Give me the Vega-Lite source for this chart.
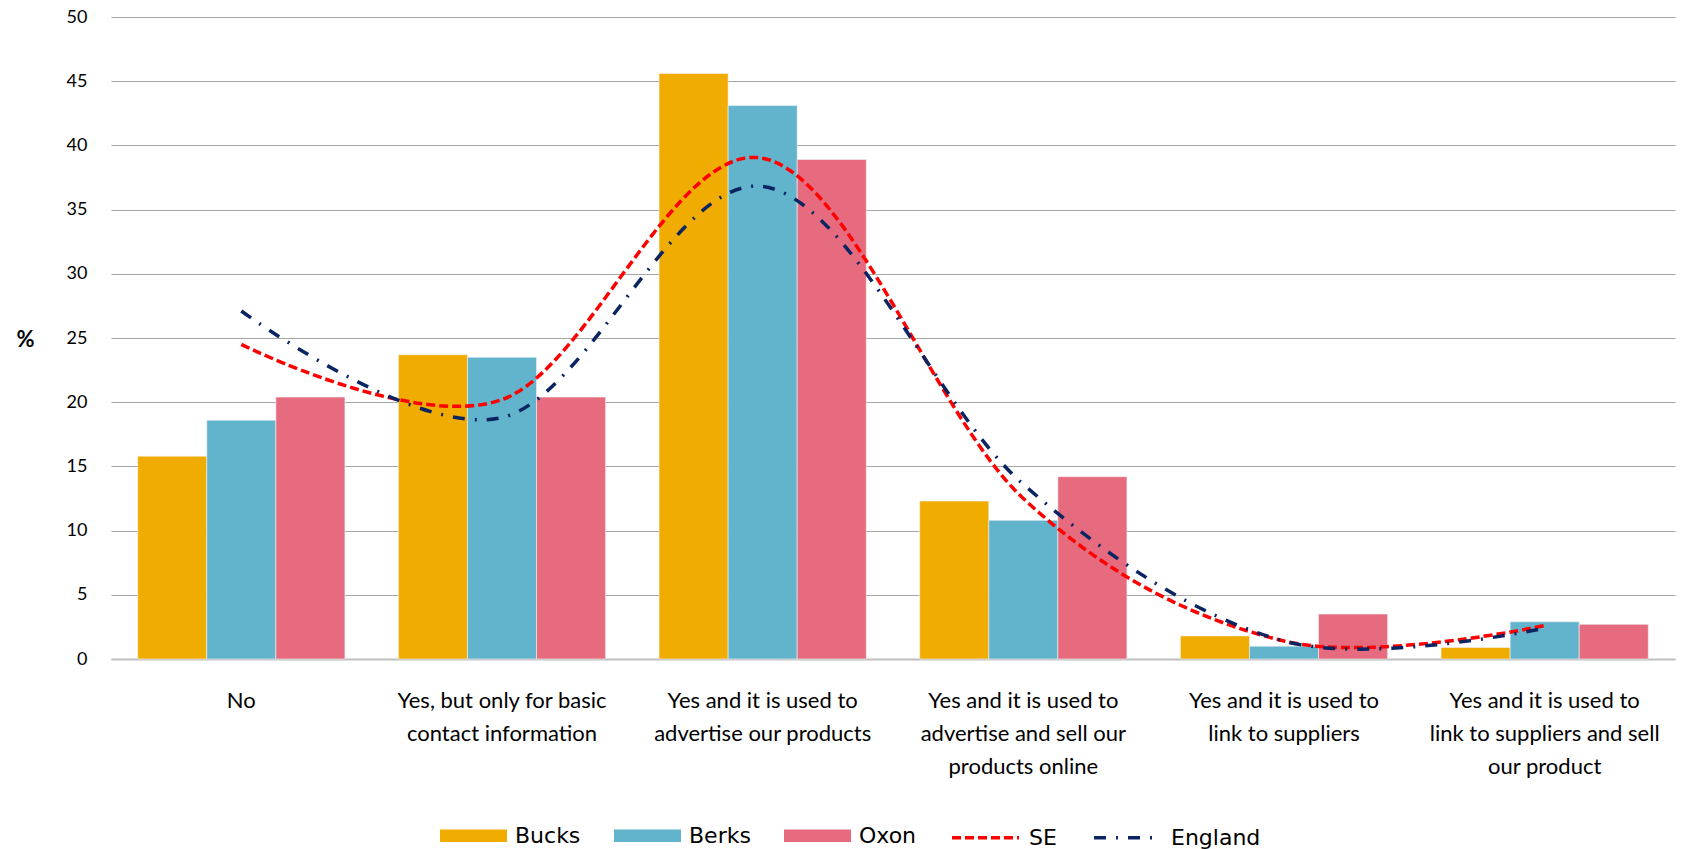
{
  "$schema": "https://vega.github.io/schema/vega-lite/v6.json",
  "width": 1564,
  "height": 642,
  "autosize": {"type": "none"},
  "padding": {"left": 111, "top": 17, "right": 17, "bottom": 190},
  "background": "white",
  "config": {
    "font": "Lato",
    "view": {"stroke": null},
    "axis": {"labelFont": "Lato", "titleFont": "Lato"},
    "legend": {"labelFont": "DejaVu Sans"}
  },
  "datasets": {
    "bars": [
      {"category": "No", "series": "Bucks", "value": 15.8},
      {"category": "No", "series": "Berks", "value": 18.6},
      {"category": "No", "series": "Oxon", "value": 20.4},
      {"category": "Yes, but only for basic|contact information", "series": "Bucks", "value": 23.7},
      {"category": "Yes, but only for basic|contact information", "series": "Berks", "value": 23.5},
      {"category": "Yes, but only for basic|contact information", "series": "Oxon", "value": 20.4},
      {"category": "Yes and it is used to|advertise our products", "series": "Bucks", "value": 45.6},
      {"category": "Yes and it is used to|advertise our products", "series": "Berks", "value": 43.1},
      {"category": "Yes and it is used to|advertise our products", "series": "Oxon", "value": 38.9},
      {"category": "Yes and it is used to|advertise and sell our|products online", "series": "Bucks", "value": 12.3},
      {"category": "Yes and it is used to|advertise and sell our|products online", "series": "Berks", "value": 10.8},
      {"category": "Yes and it is used to|advertise and sell our|products online", "series": "Oxon", "value": 14.2},
      {"category": "Yes and it is used to|link to suppliers", "series": "Bucks", "value": 1.8},
      {"category": "Yes and it is used to|link to suppliers", "series": "Berks", "value": 1.0},
      {"category": "Yes and it is used to|link to suppliers", "series": "Oxon", "value": 3.5},
      {"category": "Yes and it is used to|link to suppliers and sell|our product", "series": "Bucks", "value": 0.9},
      {"category": "Yes and it is used to|link to suppliers and sell|our product", "series": "Berks", "value": 2.9},
      {"category": "Yes and it is used to|link to suppliers and sell|our product", "series": "Oxon", "value": 2.7}
    ],
    "lines": [
      {"category": "No", "series": "SE", "value": 24.5},
      {"category": "Yes, but only for basic|contact information", "series": "SE", "value": 20.2},
      {"category": "Yes and it is used to|advertise our products", "series": "SE", "value": 39.0},
      {"category": "Yes and it is used to|advertise and sell our|products online", "series": "SE", "value": 12.5},
      {"category": "Yes and it is used to|link to suppliers", "series": "SE", "value": 1.4},
      {"category": "Yes and it is used to|link to suppliers and sell|our product", "series": "SE", "value": 2.6},
      {"category": "No", "series": "England", "value": 27.1},
      {"category": "Yes, but only for basic|contact information", "series": "England", "value": 18.8},
      {"category": "Yes and it is used to|advertise our products", "series": "England", "value": 36.8},
      {"category": "Yes and it is used to|advertise and sell our|products online", "series": "England", "value": 13.6},
      {"category": "Yes and it is used to|link to suppliers", "series": "England", "value": 1.4},
      {"category": "Yes and it is used to|link to suppliers and sell|our product", "series": "England", "value": 2.4}
    ]
  },
  "encoding": {
    "x": {
      "field": "category",
      "type": "nominal",
      "sort": null,
      "scale": {"paddingInner": 0.205, "paddingOuter": 0.1025},
      "axis": {
        "title": null,
        "labelAngle": 0,
        "labelExpr": "split(datum.label, '|')",
        "labelFontSize": 22,
        "labelColor": "#000000",
        "labelLineHeight": 33,
        "labelPadding": 31,
        "labelBaseline": "top",
        "ticks": false,
        "domain": true,
        "domainColor": "#bfbfbf",
        "domainWidth": 2,
        "labelLimit": 400
      }
    },
    "y": {
      "field": "value",
      "type": "quantitative",
      "scale": {"domain": [0, 50], "nice": false},
      "axis": {
        "title": "%",
        "titleAngle": 0,
        "titleFontSize": 22,
        "titleFontWeight": "bold",
        "titleColor": "#000000",
        "titleX": -86,
        "titleY": 322,
        "titleAlign": "center",
        "titleBaseline": "middle",
        "values": [0, 5, 10, 15, 20, 25, 30, 35, 40, 45, 50],
        "labelFontSize": 18,
        "labelColor": "#000000",
        "labelPadding": 24,
        "ticks": false,
        "domain": false,
        "grid": true,
        "gridColor": "#a6a6a6",
        "gridWidth": 1.2
      }
    }
  },
  "layer": [
    {
      "data": {"name": "bars"},
      "mark": {"type": "bar", "stroke": "#f4f4f4", "strokeWidth": 0.6},
      "encoding": {
        "xOffset": {"field": "series", "type": "nominal", "sort": ["Bucks", "Berks", "Oxon"], "scale": {"paddingInner": 0, "paddingOuter": 0}},
        "fill": {
          "field": "series",
          "type": "nominal",
          "scale": {
            "domain": ["Bucks", "Berks", "Oxon"],
            "range": ["#f0ac00", "#62b4cc", "#e66b7e"]
          },
          "legend": {
            "title": null,
            "orient": "none",
            "direction": "horizontal",
            "legendX": 329,
            "legendY": 785,
            "labelFontSize": 22,
            "labelColor": "#000000",
            "labelOffset": 8,
            "columnPadding": 33,
            "symbolSize": 4489,
            "symbolType": "M-1,-0.19H1V0.19H-1Z",
            "symbolStrokeWidth": 0,
            "symbolOpacity": 1
          }
        }
      }
    },
    {
      "data": {"name": "lines"},
      "mark": {"type": "line", "interpolate": "cardinal", "strokeWidth": 3.5, "strokeCap": "butt"},
      "encoding": {
        "stroke": {
          "field": "series",
          "type": "nominal",
          "scale": {"domain": ["SE", "England"], "range": ["#ff0000", "#0b2462"]},
          "legend": {
            "title": null,
            "orient": "none",
            "direction": "horizontal",
            "legendX": 839,
            "legendY": 785,
            "labelFontSize": 22,
            "labelColor": "#000000",
            "labelOffset": 8,
            "columnPadding": 30,
            "symbolSize": 4489,
            "symbolType": "stroke",
            "symbolStrokeWidth": 3.5,
            "symbolOpacity": 1
          }
        },
        "strokeDash": {
          "field": "series",
          "type": "nominal",
          "scale": {"domain": ["SE", "England"], "range": [[9, 4], [12, 10, 2, 10]]}
        }
      }
    }
  ]
}
